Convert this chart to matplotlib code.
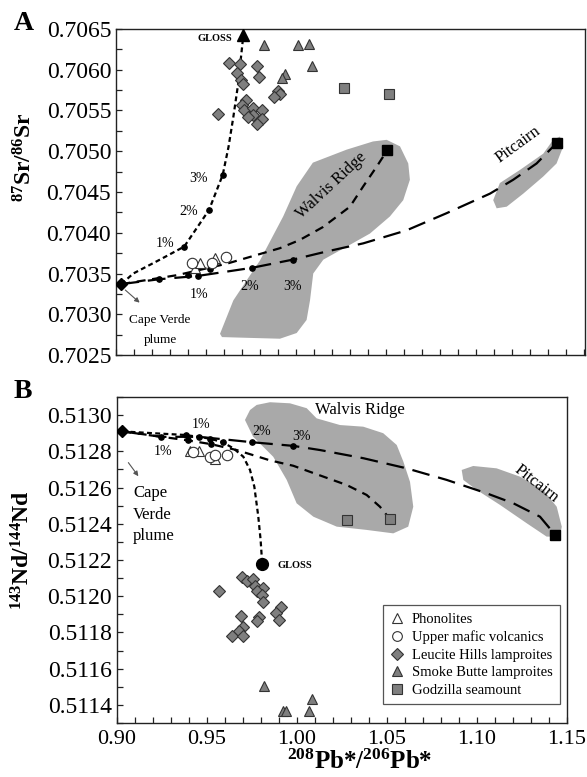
import numpy as np
import matplotlib
matplotlib.use("Agg")
import matplotlib.pyplot as plt
from matplotlib.ticker import MultipleLocator, FormatStrFormatter
from matplotlib.patches import Polygon

plt.rcParams['font.family'] = ['Liberation Serif', 'DejaVu Serif']
plt.rcParams['mathtext.fontset'] = 'custom'
plt.rcParams['mathtext.rm'] = 'Liberation Serif'
plt.rcParams['mathtext.bf'] = 'Liberation Serif:bold'

# ---------------- Panel A : 87Sr/86Sr ----------------
a_leucite_x = [0.9628, 0.9689, 0.9782, 0.9794, 0.9674, 0.9694, 0.9707, 0.9898, 0.9911, 0.9876,
               0.9722, 0.9702, 0.9713, 0.9759, 0.9813, 0.9759, 0.9813, 0.9782, 0.9565, 0.9735]
a_leucite_y = [0.70608, 0.70607, 0.70605, 0.70591, 0.70596, 0.70587, 0.70583, 0.70574, 0.70570, 0.70566,
               0.70563, 0.70557, 0.70550, 0.70553, 0.70551, 0.70544, 0.70539, 0.70534, 0.70546, 0.70542]
a_smoke_x = [0.9824, 1.0013, 1.0074, 1.0087, 0.9939, 0.9924]
a_smoke_y = [0.70630, 0.70630, 0.70632, 0.70604, 0.70595, 0.70590]
a_godzilla_x = [1.0267, 1.0517]
a_godzilla_y = [0.70577, 0.70570]
a_phon_x = [0.9440, 0.9467, 0.9550]
a_phon_y = [0.70357, 0.70363, 0.70369]
a_mafic_x = [0.9421, 0.9533, 0.9614]
a_mafic_y = [0.70363, 0.70363, 0.70370]

a_cape = (0.9030, 0.70337)
a_walvis_end = (1.0507, 0.70501)
a_pitcairn_end = (1.1448, 0.70510)
a_gloss_end = (0.9704, 0.70643)

a_gloss_cx = [0.903, 0.9096, 0.9244, 0.9379, 0.9517, 0.9593, 0.9625, 0.9652, 0.9679, 0.9704]
a_gloss_cy = [0.70337, 0.70350, 0.70367, 0.70383, 0.70428, 0.70471, 0.70505, 0.70542, 0.70583, 0.70635]
a_walvis_cx = [0.903, 0.934, 0.9615, 0.991, 1.002, 1.015, 1.030, 1.0374, 1.0448, 1.0507]
a_walvis_cy = [0.70337, 0.70348, 0.70362, 0.70381, 0.70391, 0.70407, 0.70432, 0.70457, 0.70481, 0.70501]
a_pit_cx = [0.903, 0.9241, 0.9454, 0.9756, 0.9982, 1.017, 1.0374, 1.0615, 1.0837, 1.1078, 1.1207, 1.1337, 1.1448]
a_pit_cy = [0.70337, 0.70343, 0.70347, 0.70357, 0.70367, 0.70377, 0.70387, 0.70403, 0.70424, 0.70448,
            0.70465, 0.70485, 0.70510]

a_gloss_dx = [0.9379, 0.9517, 0.9593]
a_gloss_dy = [0.70383, 0.70428, 0.70471]
a_walvis_dx = [0.9398, 0.9525]
a_walvis_dy = [0.70348, 0.70355]
a_pit_dx = [0.9241, 0.9454, 0.9756, 0.9982]
a_pit_dy = [0.70343, 0.70347, 0.70357, 0.70367]

a_walvis_shape = [(0.9578, 0.70276), (0.9652, 0.70317), (0.980, 0.70366), (0.9929, 0.70420), (1.0004, 0.70457),
                  (1.0094, 0.70486), (1.0282, 0.70502), (1.0428, 0.70512), (1.0504, 0.70514), (1.0578, 0.70506),
                  (1.0624, 0.70485), (1.0633, 0.70465), (1.0596, 0.70440), (1.0522, 0.70420), (1.0411, 0.70399),
                  (1.0282, 0.70383), (1.0152, 0.70367), (1.0096, 0.70350), (1.0078, 0.70317), (1.0059, 0.70293),
                  (1.0004, 0.70277), (0.9911, 0.70270), (0.9744, 0.70271), (0.9589, 0.70272)]
a_pit_shape = [(1.1096, 0.70440), (1.1133, 0.70461), (1.1244, 0.70477), (1.1374, 0.70497), (1.1429, 0.70514),
               (1.1467, 0.70518), (1.1485, 0.70506), (1.1448, 0.70485), (1.1374, 0.70469), (1.1263, 0.70448),
               (1.1171, 0.70432), (1.1115, 0.70430)]

# ---------------- Panel B : 143Nd/144Nd ----------------
b_leucite_x = [0.9696, 0.9724, 0.9757, 0.9767, 0.9813, 0.9779, 0.9807, 0.9813, 0.9567, 0.9687,
               0.9791, 0.9779, 0.9911, 0.9883, 0.9902, 0.9702, 0.9678, 0.9637, 0.9702]
b_leucite_y = [0.512108, 0.512084, 0.512095, 0.512058, 0.512047, 0.512029, 0.512007, 0.511970, 0.512029, 0.511891,
               0.511884, 0.511863, 0.511942, 0.511909, 0.511869, 0.511832, 0.511808, 0.511782, 0.511780]
b_smoke_x = [0.9818, 1.0085, 0.9921, 0.9939, 1.0065]
b_smoke_y = [0.511506, 0.511431, 0.511366, 0.511366, 0.511366]
b_godzilla_x = [1.0276, 1.0517]
b_godzilla_y = [0.512421, 0.512425]
b_phon_x = [0.9406, 0.9457, 0.9544]
b_phon_y = [0.51280, 0.51280, 0.512756]
b_mafic_x = [0.9422, 0.9517, 0.9544, 0.9611]
b_mafic_y = [0.512796, 0.51277, 0.51278, 0.512777]

b_cape = (0.9030, 0.51291)
b_pitcairn_end = (1.1435, 0.512338)
b_gloss_end = (0.9806, 0.51218)

b_gloss_cx = [0.903, 0.920, 0.9381, 0.9517, 0.9587, 0.9646, 0.9702, 0.9739, 0.9763, 0.9785, 0.9798, 0.9806]
b_gloss_cy = [0.51291, 0.51290, 0.51289, 0.51287, 0.51285, 0.512817, 0.51277, 0.512697, 0.512605, 0.51244,
              0.51231, 0.51219]
b_walvis_cx = [0.903, 0.9396, 0.952, 0.9665, 0.985, 0.998, 1.0091, 1.0276, 1.0387, 1.0461, 1.0517]
b_walvis_cy = [0.51291, 0.51286, 0.51284, 0.512807, 0.51275, 0.51272, 0.51268, 0.512614, 0.512559,
               0.512494, 0.512425]
b_pit_cx = [0.903, 0.9244, 0.9456, 0.9752, 0.9979, 1.0128, 1.0368, 1.0609, 1.0832, 1.1054, 1.1202, 1.135, 1.1435]
b_pit_cy = [0.51291, 0.51288, 0.51288, 0.51285, 0.51283, 0.512807, 0.512762, 0.512706, 0.512642, 0.512568,
            0.512513, 0.512439, 0.512338]

b_gloss_dx = [0.9381, 0.9517, 0.9587]
b_gloss_dy = [0.51289, 0.51287, 0.51285]
b_walvis_dx = [0.9396, 0.952]
b_walvis_dy = [0.51286, 0.51284]
b_pit_dx = [0.9244, 0.9456, 0.9752, 0.9979]
b_pit_dy = [0.51288, 0.51288, 0.51285, 0.51283]

b_walvis_shape = [(0.9711, 0.512973), (0.9739, 0.513028), (0.9776, 0.513056), (0.985, 0.513071), (0.9961, 0.513065),
                  (1.0054, 0.513038), (1.0109, 0.512982), (1.0239, 0.512945), (1.0368, 0.512936), (1.0479, 0.512900),
                  (1.0554, 0.512835), (1.0591, 0.512743), (1.0628, 0.512631), (1.0646, 0.512494), (1.0618, 0.512384),
                  (1.0535, 0.512347), (1.0387, 0.512366), (1.0221, 0.512384), (1.0091, 0.512439), (0.9998, 0.512513),
                  (0.9943, 0.512642), (0.9868, 0.512770), (0.9756, 0.512881)]
b_pit_shape = [(1.0915, 0.512697), (1.0979, 0.512719), (1.1109, 0.512706), (1.1239, 0.51266), (1.1368, 0.512587),
               (1.1443, 0.512494), (1.1471, 0.512384), (1.1461, 0.512329), (1.1387, 0.512329), (1.1276, 0.512403),
               (1.1128, 0.512504), (1.0998, 0.512587), (1.0924, 0.512642)]

shape_color = '#a9a9a9'
mark_color = '#7f7f7f'
edge = '#333333'

fig = plt.figure(figsize=(5.87, 7.77), dpi=100)
axA = fig.add_axes([0.1976, 0.5431, 0.7990, 0.4196])
axB = fig.add_axes([0.1993, 0.0695, 0.7666, 0.4196])


def style_axis(ax):
    for s in ax.spines.values():
        s.set_linewidth(1.0)
        s.set_color('#222222')
    ax.tick_params(which='both', direction='in', top=False, right=False, length=4, width=0.9,
                   color='#222222')
    ax.xaxis.set_minor_locator(MultipleLocator(0.01))


def draw_common(ax, leu, smk, god, phon, maf):
    ax.plot(leu[0], leu[1], 'D', ms=6, mfc=mark_color, mec=edge, mew=0.8, ls='none', zorder=5)
    ax.plot(smk[0], smk[1], '^', ms=7, mfc=mark_color, mec=edge, mew=0.8, ls='none', zorder=5)
    ax.plot(god[0], god[1], 's', ms=6.5, mfc=mark_color, mec=edge, mew=0.8, ls='none', zorder=5)
    ax.plot(phon[0], phon[1], '^', ms=7, mfc='white', mec=edge, mew=0.8, ls='none', zorder=5)
    ax.plot(maf[0], maf[1], 'o', ms=7.5, mfc='white', mec=edge, mew=0.8, ls='none', zorder=6)


# ---- Panel A ----
axA.add_patch(Polygon(a_walvis_shape, closed=True, fc=shape_color, ec='none', zorder=1))
axA.add_patch(Polygon(a_pit_shape, closed=True, fc=shape_color, ec='none', zorder=1))
axA.plot(a_gloss_cx, a_gloss_cy, color='black', lw=1.6, dashes=(2.2, 1.5), zorder=3)
axA.plot(a_walvis_cx, a_walvis_cy, color='black', lw=1.6, dashes=(4, 3), zorder=3)
axA.plot(a_pit_cx, a_pit_cy, color='black', lw=1.6, dashes=(8, 4), zorder=3)
axA.plot(a_gloss_dx, a_gloss_dy, 'o', color='black', ms=3.8, zorder=4)
axA.plot(a_walvis_dx, a_walvis_dy, 'o', color='black', ms=3.8, zorder=4)
axA.plot(a_pit_dx, a_pit_dy, 'o', color='black', ms=3.8, zorder=4)
draw_common(axA, (a_leucite_x, a_leucite_y), (a_smoke_x, a_smoke_y), (a_godzilla_x, a_godzilla_y),
            (a_phon_x, a_phon_y), (a_mafic_x, a_mafic_y))
axA.plot(*a_cape, 'D', color='black', ms=6.5, zorder=7)
axA.plot(*a_walvis_end, 's', color='black', ms=7, zorder=7)
axA.plot(*a_pitcairn_end, 's', color='black', ms=7, zorder=7)
axA.plot(*a_gloss_end, '^', color='black', ms=8, zorder=7)

axA.text(0.9644, 0.70638, 'GLOSS', fontsize=7.5, fontweight='bold', ha='right', va='center')
axA.text(0.9272, 0.70387, '1%', fontsize=10, ha='center', va='center')
axA.text(0.9402, 0.70426, '2%', fontsize=10, ha='center', va='center')
axA.text(0.9457, 0.70467, '3%', fontsize=10, ha='center', va='center')
axA.text(0.9461, 0.70324, '1%', fontsize=10, ha='center', va='center')
axA.text(0.9744, 0.70334, '2%', fontsize=10, ha='center', va='center')
axA.text(0.9983, 0.70334, '3%', fontsize=10, ha='center', va='center')
axA.text(1.0195, 0.70458, 'Walvis Ridge', fontsize=12, rotation=43, ha='center', va='center',
         rotation_mode='anchor', zorder=6)
axA.text(1.1235, 0.70508, 'Pitcairn', fontsize=12, rotation=36, ha='center', va='center',
         rotation_mode='anchor')
axA.text(0.9244, 0.70293, 'Cape Verde', fontsize=9.5, ha='center', va='center')
axA.text(0.9244, 0.70268, 'plume', fontsize=9.5, ha='center', va='center')
axA.annotate('', xy=(0.9143, 0.70312), xytext=(0.9040, 0.70332),
             arrowprops=dict(arrowstyle='-|>', color='#555555', lw=0.8, mutation_scale=7))

axA.set_xlim(0.90, 1.1606)
axA.set_ylim(0.7025, 0.7065)
axA.yaxis.set_major_locator(MultipleLocator(0.0005))
axA.yaxis.set_minor_locator(MultipleLocator(0.00025))
axA.yaxis.set_major_formatter(FormatStrFormatter('%.4f'))
style_axis(axA)
axA.tick_params(axis='x', which='both', labelbottom=False)
axA.tick_params(axis='y', labelsize=17)

# ---- Panel B ----
axB.add_patch(Polygon(b_walvis_shape, closed=True, fc=shape_color, ec='none', zorder=1))
axB.add_patch(Polygon(b_pit_shape, closed=True, fc=shape_color, ec='none', zorder=1))
axB.plot(b_gloss_cx, b_gloss_cy, color='black', lw=1.6, dashes=(2.2, 1.5), zorder=3)
axB.plot(b_walvis_cx, b_walvis_cy, color='black', lw=1.6, dashes=(4, 3), zorder=3)
axB.plot(b_pit_cx, b_pit_cy, color='black', lw=1.6, dashes=(8, 4), zorder=3)
axB.plot(b_gloss_dx, b_gloss_dy, 'o', color='black', ms=3.8, zorder=4)
axB.plot(b_walvis_dx, b_walvis_dy, 'o', color='black', ms=3.8, zorder=4)
axB.plot(b_pit_dx, b_pit_dy, 'o', color='black', ms=3.8, zorder=4)
draw_common(axB, (b_leucite_x, b_leucite_y), (b_smoke_x, b_smoke_y), (b_godzilla_x, b_godzilla_y),
            (b_phon_x, b_phon_y), (b_mafic_x, b_mafic_y))
axB.plot(*b_cape, 'D', color='black', ms=6.5, zorder=7)
axB.plot(*b_pitcairn_end, 's', color='black', ms=7, zorder=7)
axB.plot(*b_gloss_end, 'o', color='black', ms=8.5, zorder=7)

axB.text(0.9894, 0.51217, 'GLOSS', fontsize=7.5, fontweight='bold', ha='left', va='center')
axB.text(0.9465, 0.51295, '1%', fontsize=10, ha='center', va='center')
axB.text(0.9257, 0.51280, '1%', fontsize=10, ha='center', va='center')
axB.text(0.9804, 0.51291, '2%', fontsize=10, ha='center', va='center')
axB.text(1.0026, 0.51288, '3%', fontsize=10, ha='center', va='center')
axB.text(1.035, 0.51303, 'Walvis Ridge', fontsize=12, ha='center', va='center')
axB.text(1.1331, 0.51262, 'Pitcairn', fontsize=12, rotation=-38, ha='center', va='center',
         rotation_mode='anchor')
axB.text(0.9089, 0.51257, 'Cape', fontsize=12, ha='left', va='center')
axB.text(0.9089, 0.51245, 'Verde', fontsize=12, ha='left', va='center')
axB.text(0.9089, 0.51233, 'plume', fontsize=12, ha='left', va='center')
axB.annotate('', xy=(0.9128, 0.51265), xytext=(0.9054, 0.51275),
             arrowprops=dict(arrowstyle='-|>', color='#555555', lw=0.8, mutation_scale=7))

axB.set_xlim(0.90, 1.15)
axB.set_ylim(0.5113, 0.5131)
axB.xaxis.set_major_locator(MultipleLocator(0.05))
axB.xaxis.set_major_formatter(FormatStrFormatter('%.2f'))
axB.yaxis.set_major_locator(MultipleLocator(0.0002))
axB.yaxis.set_minor_locator(MultipleLocator(0.0001))
axB.yaxis.set_major_formatter(FormatStrFormatter('%.4f'))
style_axis(axB)
axB.tick_params(axis='y', labelsize=17)
axB.tick_params(axis='x', labelsize=16, pad=5)

# legend built from proxy handles
legend_labels = ['Phonolites', 'Upper mafic volcanics', 'Leucite Hills lamproites',
                 'Smoke Butte lamproites', 'Godzilla seamount']
handles = [
    plt.Line2D([], [], marker='^', ls='none', ms=7, mfc='white', mec=edge, mew=0.8),
    plt.Line2D([], [], marker='o', ls='none', ms=7, mfc='white', mec=edge, mew=0.8),
    plt.Line2D([], [], marker='D', ls='none', ms=5.8, mfc=mark_color, mec=edge, mew=0.8),
    plt.Line2D([], [], marker='^', ls='none', ms=7, mfc=mark_color, mec=edge, mew=0.8),
    plt.Line2D([], [], marker='s', ls='none', ms=6.5, mfc=mark_color, mec=edge, mew=0.8),
]
leg = axB.legend(handles, legend_labels, loc='lower right', bbox_to_anchor=(0.984, 0.058),
                 fontsize=10.5, frameon=True, fancybox=False, framealpha=1, edgecolor='#555555',
                 handlelength=1.0, handletextpad=0.5, labelspacing=0.3, borderpad=0.5,
                 borderaxespad=0)
leg.get_frame().set_linewidth(0.9)

# axis labels and panel letters
fig.text(25 / 587, 1 - 157 / 777, r'$\mathbf{^{87}}$Sr/$\mathbf{^{86}}$Sr', rotation=90,
         fontsize=17, fontweight='bold', ha='center', va='center')
fig.text(23 / 587, 1 - 550 / 777, r'$\mathbf{^{143}}$Nd/$\mathbf{^{144}}$Nd', rotation=90,
         fontsize=17, fontweight='bold', ha='center', va='center')
fig.text(360 / 587, 1 - 762 / 777, r'$\mathbf{^{208}}$Pb*/$\mathbf{^{206}}$Pb*',
         fontsize=18, fontweight='bold', ha='center', va='center')
fig.text(24 / 587, 1 - 24 / 777, 'A', fontsize=20, fontweight='bold', ha='center', va='center')
fig.text(23 / 587, 1 - 392 / 777, 'B', fontsize=20, fontweight='bold', ha='center', va='center')

fig.savefig('out.png', dpi=100)
